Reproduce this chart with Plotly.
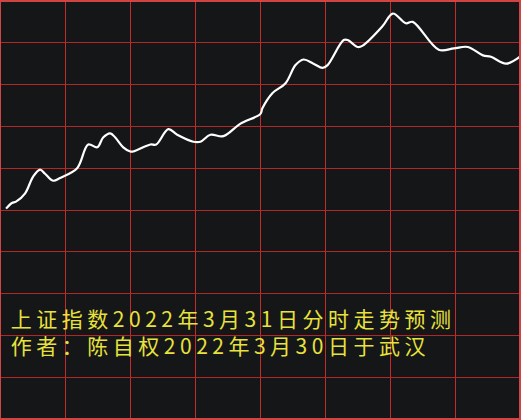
import plotly.graph_objects as go

# Trading minutes since open (0..240) and predicted change (%) vs previous close
minutes = [2.8, 5.5, 7.4, 11.6, 15.3, 18.5, 20.8, 24.5, 27.7, 35.6, 40.7, 44.9, 47.6,
           50.9, 53.2, 56.9, 60.1, 61.5, 69.4, 72.1, 77.7, 81.8, 89.2, 92.5, 97.1,
           103.1, 111.0, 120.2, 121.1, 125.8, 131.8, 136.4, 140.1, 144.7, 148.9,
           151.2, 158.6, 160.5, 165.1, 167.4, 176.6, 181.3, 187.3, 190.5, 202.5,
           209.5, 215.9, 222.9, 226.6, 233.5, 240.0]
change_pct = [0.01, 0.05, 0.06, 0.12, 0.24, 0.29, 0.26, 0.21, 0.23, 0.30, 0.47, 0.45,
              0.52, 0.55, 0.52, 0.45, 0.42, 0.42, 0.47, 0.47, 0.58, 0.54, 0.49, 0.49,
              0.54, 0.53, 0.62, 0.69, 0.73, 0.84, 0.91, 1.04, 1.08, 1.05, 1.02, 1.04,
              1.22, 1.22, 1.17, 1.18, 1.32, 1.41, 1.34, 1.35, 1.15, 1.16, 1.17, 1.11,
              1.10, 1.05, 1.10]

title_line1 = "上证指数2022年3月31日分时走势预测"
title_line2 = "作者：陈自权2022年3月30日于武汉"
caption_x = [5.0]
caption_y = [-0.90]

W, H = 521, 420
ml, mr, mt, mb = 0, 1, 1, 1

fig = go.Figure()
fig.add_trace(go.Scatter(
    x=minutes, y=change_pct, mode="lines",
    line=dict(color="#ffffff", width=2.2, shape="spline", smoothing=1.0),
    hoverinfo="skip", showlegend=False,
))
fig.add_trace(go.Scatter(
    x=caption_x, y=caption_y, mode="text",
    text=[title_line1 + "<br>" + title_line2], textposition="middle right",
    textfont=dict(family="Noto Sans CJK SC", size=21, color="#e8e23c"),
    hoverinfo="skip", showlegend=False,
))

fig.update_xaxes(range=[0, 240], dtick=30, tick0=0, showgrid=True,
                 gridcolor="#c42c2c", gridwidth=1, zeroline=False,
                 showticklabels=False, ticks="", showline=False, fixedrange=True)
fig.update_yaxes(range=[-1.5, 1.5], dtick=0.3, tick0=0, showgrid=True,
                 gridcolor="#b02828", gridwidth=1, zeroline=False,
                 showticklabels=False, ticks="", showline=False, fixedrange=True)

fig.add_shape(type="rect", xref="paper", yref="paper", x0=0, x1=1, y0=0, y1=1,
              line=dict(color="#d04444", width=2), layer="above")

fig.update_layout(width=W, height=H, margin=dict(l=ml, r=mr, t=mt, b=mb),
                  plot_bgcolor="#151618", paper_bgcolor="#151618")

post = """
document.body.style.margin='0';
document.body.style.background='#151618';
document.querySelectorAll('g.textpoint text').forEach(function(t){t.style.letterSpacing='4.5px';});
"""
fig.write_html("out.html", post_script=post, config={"displayModeBar": False})
